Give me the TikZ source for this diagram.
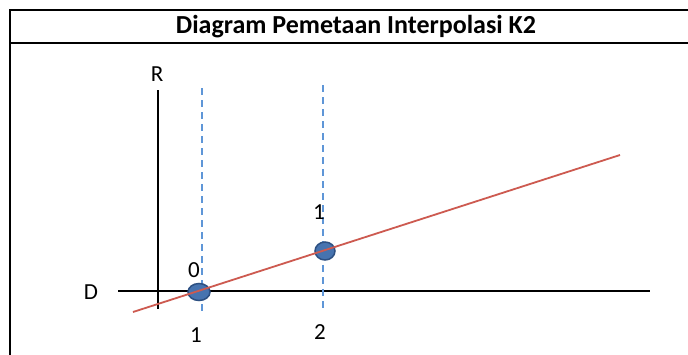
\documentclass[tikz,border=0pt]{standalone}
\usepackage{fontspec}
\setmainfont{Carlito}
\usetikzlibrary{shapes.geometric}
\begin{document}
\begin{tikzpicture}[x=1pt,y=-1pt,
  axis/.style={line width=1.6pt,black},
  guide/.style={line width=1.6pt,color={rgb,255:red,95;green,150;blue,215},dash pattern=on 7pt off 5pt},
  fitline/.style={line width=1.8pt,color={rgb,255:red,205;green,90;blue,80}},
  dot/.style={ellipse,fill={rgb,255:red,70;green,115;blue,175},draw={rgb,255:red,45;green,80;blue,130},line width=1.5pt,inner sep=0pt},
  lbl/.style={font=\fontsize{23}{25}\selectfont,inner sep=0pt}]
\useasboundingbox (0,0) rectangle (688,354);
\fill[white] (0,0) rectangle (688,354);
% frame
\draw[line width=2.2pt] (10,360) -- (10,10) -- (700,10);
\draw[line width=1.8pt] (10,43) -- (700,43);
\node[font=\bfseries\fontsize{26}{28}\selectfont] (title) at (356,27) {Diagram Pemetaan Interpolasi K2};
% axes
\coordinate (rtop) at (158,90);
\coordinate (rbot) at (158,309);
\coordinate (dl) at (118,291);
\coordinate (dr) at (650,291);
\draw[axis] (rtop) -- (rbot);
\draw[axis] (dl) -- (dr);
\node[lbl] (R) at (157,74) {R};
\node[lbl] (D) at (91,292) {D};
% guides
\coordinate (g1t) at (202,88);
\coordinate (g1b) at (202,312);
\coordinate (g2t) at (323,85);
\coordinate (g2b) at (323,310);
\draw[guide] (g1t) -- (g1b);
\draw[guide] (g2t) -- (g2b);
% dots
\node[dot,minimum width=22pt,minimum height=17pt] (p1) at (199,292) {};
\node[dot,minimum width=20pt,minimum height=18pt] (p2) at (325,251) {};
% fit line
\coordinate (fa) at (133,312);
\coordinate (fb) at (620,155);
\draw[fitline] (fa) -- (fb);
% labels
\node[lbl] (v0) at (194,270) {0};
\node[lbl] (v1) at (319,212) {1};
\node[lbl] (x1) at (196,335) {1};
\node[lbl] (x2) at (320,332) {2};
\end{tikzpicture}
\end{document}
